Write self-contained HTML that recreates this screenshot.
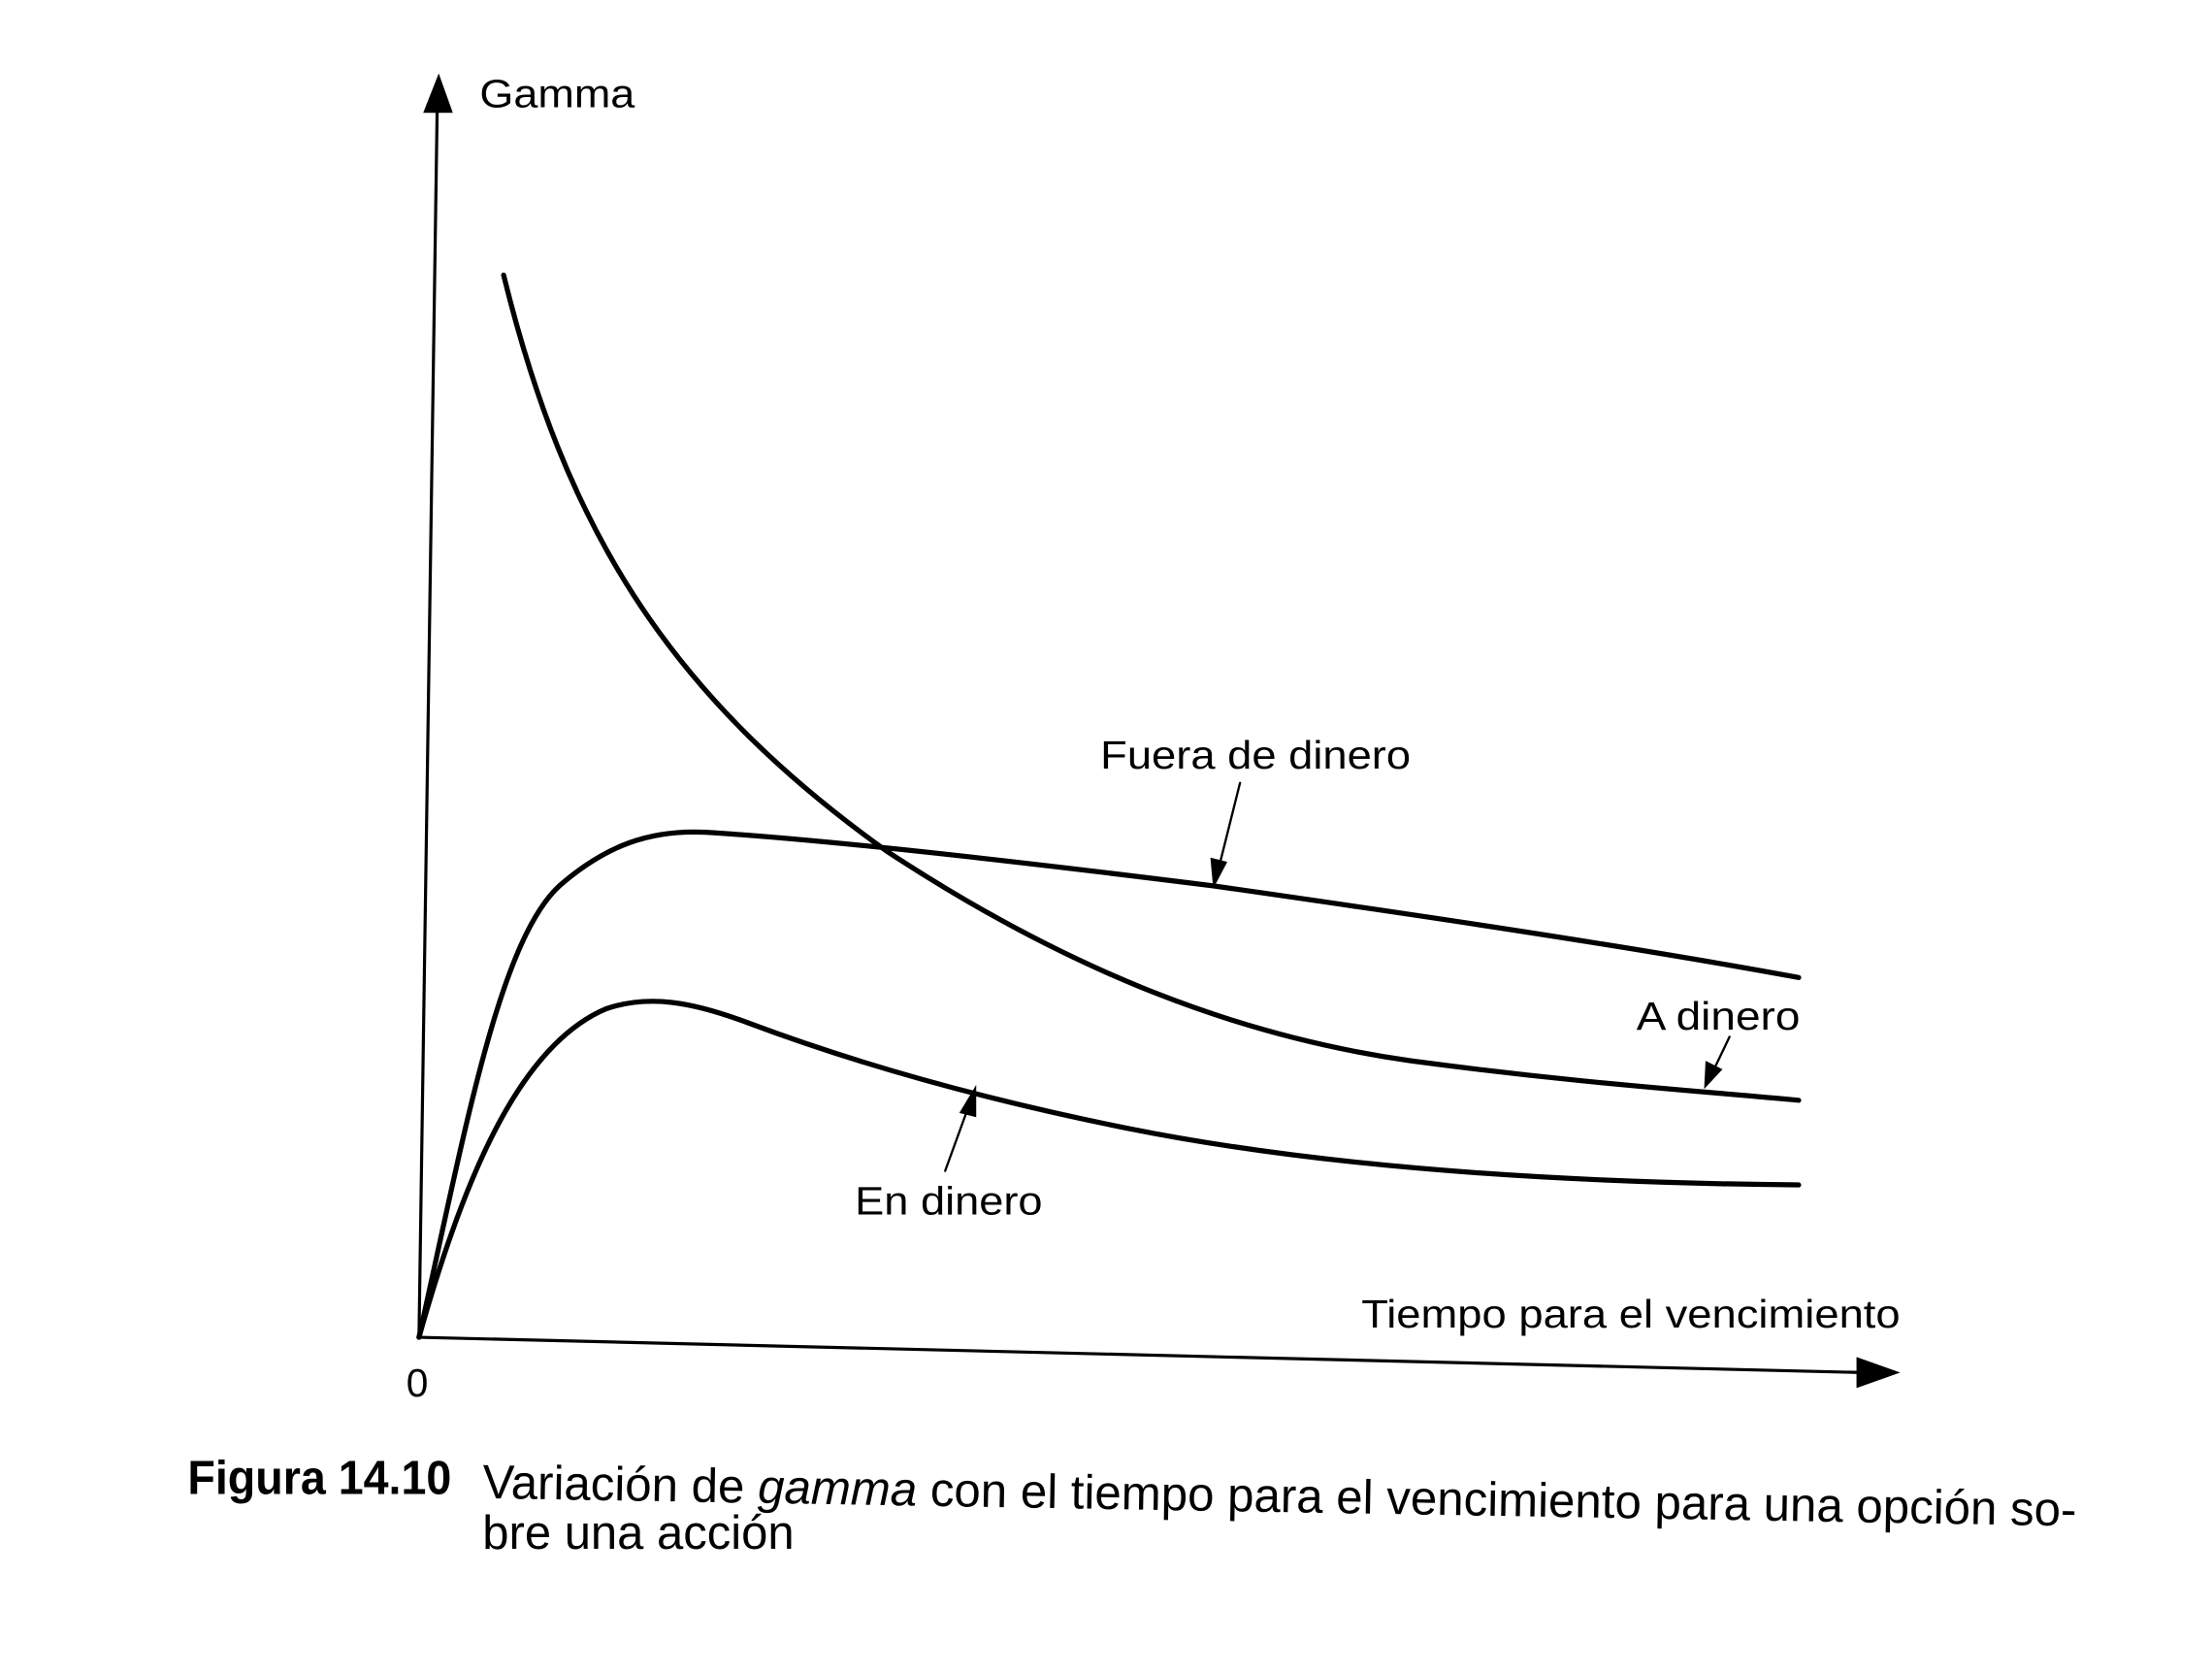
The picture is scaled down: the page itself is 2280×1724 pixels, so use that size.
<!DOCTYPE html>
<html><head><meta charset="utf-8"><style>html,body{margin:0;padding:0;background:#fff}svg{display:block}</style></head>
<body>
<svg width="2280" height="1724" viewBox="0 0 1568 1186" preserveAspectRatio="none" xmlns="http://www.w3.org/2000/svg">
<rect width="1568" height="1186" fill="#fff"/>
<g stroke="#000" fill="none" stroke-linecap="round">
<line x1="297" y1="948" x2="310" y2="70" stroke-width="2.2"/>
<line x1="297" y1="948" x2="1320" y2="973" stroke-width="2.2"/>
<path d="M357 195 C400 370 470 490 628 603 C760 690 880 735 1000 752 C1120 768 1200 773 1275 780" stroke-width="3.6"/>
<path d="M297 948 C330 800 355 660 400 625 C430 600 460 588 500 590 C600 596 780 618 860 628 C1000 648 1150 670 1275 693" stroke-width="3.6"/>
<path d="M297 948 C330 830 370 740 430 715 C460 705 490 710 530 725 C610 755 700 780 800 800 C900 820 1050 838 1275 840" stroke-width="3.6"/>
<line x1="879" y1="555" x2="864" y2="615" stroke-width="1.6"/>
<line x1="1226" y1="735" x2="1215" y2="758" stroke-width="1.6"/>
<line x1="670" y1="830" x2="686" y2="786" stroke-width="1.6"/>
</g>
<g fill="#000">
<polygon points="311,52 300,80 321,80"/>
<polygon points="1347,973 1316,962 1316,984"/>
<polygon points="860,630 858,608 870,611"/>
<polygon points="1208,772 1209,752 1221,758"/>
<polygon points="692,769 680,789 692,792"/>
</g>
<g font-family="Liberation Sans, sans-serif" font-size="28" fill="#000">
<text x="340" y="76" textLength="110" lengthAdjust="spacingAndGlyphs">Gamma</text>
<text x="288" y="990">0</text>
<text x="965" y="941" textLength="382" lengthAdjust="spacingAndGlyphs">Tiempo para el vencimiento</text>
<text x="780" y="545" textLength="220" lengthAdjust="spacingAndGlyphs">Fuera de dinero</text>
<text x="1160" y="730" textLength="116" lengthAdjust="spacingAndGlyphs">A dinero</text>
<text x="606" y="861" textLength="133" lengthAdjust="spacingAndGlyphs">En dinero</text>
</g>
<g font-family="Liberation Sans, sans-serif" font-size="34" fill="#000">
<text x="133" y="1059" font-weight="bold" textLength="187" lengthAdjust="spacingAndGlyphs">Figura 14.10</text>
<text x="342" y="1062" textLength="1130" lengthAdjust="spacingAndGlyphs" transform="rotate(1.0 342 1062)">Variación de <tspan font-style="italic">gamma</tspan> con el tiempo para el vencimiento para una opción so-</text>
<text x="342" y="1098" textLength="221" lengthAdjust="spacingAndGlyphs">bre una acción</text>
</g>
</svg>
</body></html>
